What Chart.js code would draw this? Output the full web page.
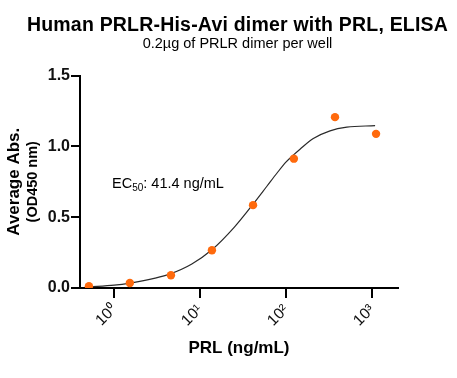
<!DOCTYPE html>
<html>
<head>
<meta charset="utf-8">
<script src="https://cdn.jsdelivr.net/npm/chart.js@4"></script>
<style>
  html, body { margin: 0; padding: 0; background: #fff; }
  #wrap { width: 457px; height: 378px; }
</style>
</head>
<body>
<div id="wrap"><canvas id="chart" width="457" height="378"></canvas></div>
<script>
const FONT = "'Liberation Sans', Arial, Helvetica, sans-serif";

const titleText = 'Human PRLR-His-Avi dimer with PRL, ELISA';
const subtitleText = '0.2\u00b5g of PRLR dimer per well';
const xTitle = 'PRL (ng/mL)';
const yTitle = 'Average Abs.';
const yTitleUnit = '(OD450 nm)';

// measured points (3-fold dilution series)
const concentrations = [0.508, 1.52, 4.57, 13.7, 41.2, 123, 370, 1111];
const absorbance = [0.012, 0.035, 0.09, 0.267, 0.585, 0.913, 1.206, 1.088];

// fitted curve
const fitX = [0.51, 1, 1.53, 3, 4.48, 8, 13.7, 25, 41, 60, 78, 100, 122, 145, 207, 324, 508, 1083];
const fitY = [0.008, 0.02, 0.035, 0.07, 0.10, 0.17, 0.27, 0.43, 0.59, 0.72, 0.81, 0.89, 0.94, 0.98, 1.055, 1.109, 1.135, 1.146];

const xTicks = [1, 10, 100, 1000];
const xTickLabels = ['10\u2070', '10\u00b9', '10\u00b2', '10\u00b3'];
const yTicks = [0, 0.5, 1.0, 1.5];

Chart.defaults.font.family = FONT;
Chart.defaults.color = '#000';

const textPlugin = {
  id: 'textPlugin',
  afterDraw(chart) {
    const { ctx, chartArea } = chart;
    const mid = (chartArea.left + chartArea.right) / 2 - 1.5;
    ctx.save();
    ctx.fillStyle = '#000';
    ctx.textAlign = 'center';
    ctx.textBaseline = 'alphabetic';

    ctx.font = 'bold 19.5px ' + FONT;
    ctx.letterSpacing = '0.2px';
    ctx.fillText(titleText, mid, 31);
    ctx.letterSpacing = '0px';

    ctx.font = '14.5px ' + FONT;
    ctx.fillText(subtitleText, mid, 48);

    // second line of the y title
    ctx.save();
    ctx.translate(33, (chartArea.top + chartArea.bottom) / 2);
    ctx.rotate(-Math.PI / 2);
    ctx.font = 'bold 14.5px ' + FONT;
    ctx.textBaseline = 'middle';
    ctx.fillText(yTitleUnit, 0, 0);
    ctx.restore();

    // EC50 label
    ctx.textAlign = 'left';
    let x = chartArea.left + 32;
    const y = 188;
    ctx.font = '14.5px ' + FONT;
    ctx.fillText('EC', x, y);
    x += ctx.measureText('EC').width;
    ctx.font = '10px ' + FONT;
    ctx.fillText('50', x, y + 3);
    x += ctx.measureText('50').width;
    ctx.font = '14.5px ' + FONT;
    ctx.fillText(': 41.4 ng/mL', x, y);
    ctx.restore();
  }
};

const ctx = document.getElementById('chart').getContext('2d');
const chart = new Chart(ctx, {
  type: 'scatter',
  data: {
    datasets: [
      {
        label: 'data',
        data: concentrations.map((c, i) => ({ x: c, y: absorbance[i] })),
        backgroundColor: '#ff6a0d',
        borderWidth: 0,
        pointRadius: 4.2,
        showLine: false
      },
      {
        label: 'fit',
        data: fitX.map((c, i) => ({ x: c, y: fitY[i] })),
        borderColor: '#2a2a2a',
        borderWidth: 1.2,
        pointRadius: 0,
        showLine: true,
        cubicInterpolationMode: 'monotone'
      }
    ]
  },
  options: {
    responsive: false,
    animation: false,
    layout: { padding: { top: 75.5, right: 59, bottom: 0, left: 0 } },
    plugins: {
      legend: { display: false },
      tooltip: { enabled: false }
    },
    scales: {
      x: {
        type: 'logarithmic',
        position: 'bottom',
        min: 0.4,
        max: 2000,
        afterBuildTicks: scale => { scale.ticks = xTicks.map(v => ({ value: v })); },
        afterFit: scale => { scale.height = 90; },
        ticks: {
          autoSkip: false,
          minRotation: 45,
          maxRotation: 45,
          padding: 3,
          font: { size: 15.5 },
          color: '#111',
          callback: (value, index) => xTickLabels[index]
        },
        grid: { drawOnChartArea: false, drawTicks: true, tickLength: 10, color: '#000', lineWidth: 2 },
        border: { color: '#000', width: 2 },
        title: {
          display: true,
          text: xTitle,
          font: { size: 17, weight: 'bold' },
          padding: { top: 0, bottom: 19 }
        }
      },
      y: {
        min: 0,
        max: 1.5,
        afterBuildTicks: scale => { scale.ticks = yTicks.map(v => ({ value: v })); },
        afterFit: scale => { scale.width = 80; },
        ticks: {
          padding: 1,
          font: { size: 16, weight: 'bold' },
          color: '#111',
          callback: v => v.toFixed(1)
        },
        grid: { drawOnChartArea: false, drawTicks: true, tickLength: 9, color: '#000', lineWidth: 2 },
        border: { color: '#000', width: 2 },
        title: {
          display: true,
          text: yTitle,
          font: { size: 17, weight: 'bold' },
          padding: { top: 4, bottom: 0 }
        }
      }
    }
  },
  plugins: [textPlugin]
});
</script>
</body>
</html>
